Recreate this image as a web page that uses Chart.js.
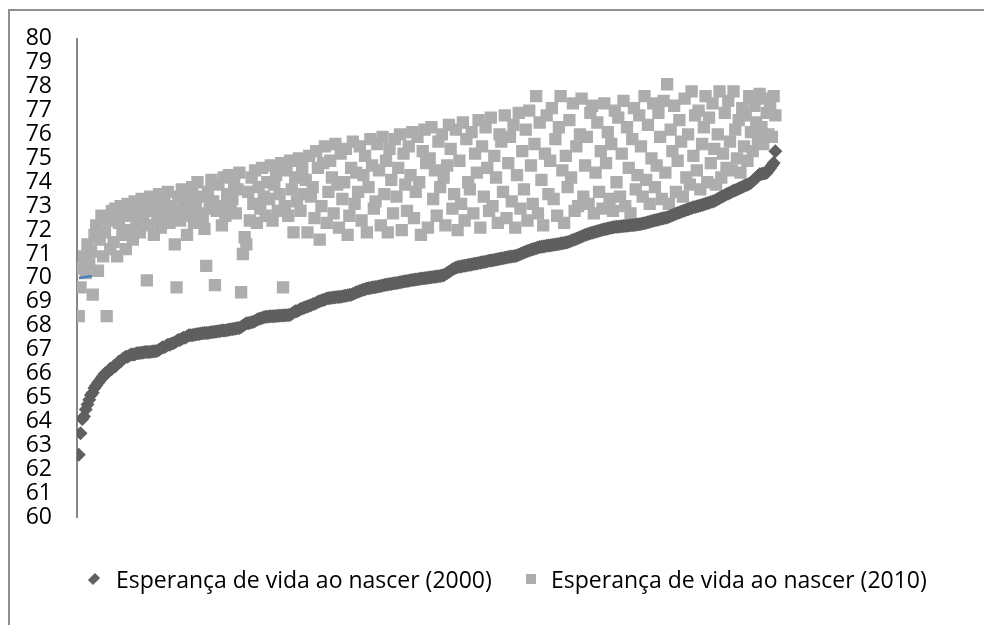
<!DOCTYPE html>
<html>
<head>
<meta charset="utf-8">
<script src="https://cdn.jsdelivr.net/npm/chart.js@4/dist/chart.umd.min.js"></script>
<style>
html,body{margin:0;padding:0;background:#fff;overflow:hidden;width:984px;height:625px;}
#frame{position:absolute;left:8px;top:9px;width:1000px;height:700px;border:2px solid #8e8e8e;box-sizing:border-box;}
#wrap{position:absolute;left:0;top:0;width:984px;height:625px;}
.lg{position:absolute;font-family:'Open Sans',sans-serif;font-size:23px;line-height:24px;color:#000;white-space:nowrap;}
.mk{position:absolute;}
#m1{left:90px;top:575px;width:8px;height:8px;background:#5f5f5f;transform:rotate(45deg) scale(0.9,1.25);}
#m2{left:526px;top:574px;width:10px;height:10px;background:#adadad;}
</style>
</head>
<body>
<div id="frame"></div>
<div id="wrap"><canvas id="c" width="984" height="625"></canvas></div>
<div class="mk" id="m1"></div><div class="lg" id="t1" style="left:116px;top:567px;"></div>
<div class="mk" id="m2"></div><div class="lg" id="t2" style="left:551px;top:567px;"></div>
<script>
const seriesNames = ["Esperança de vida ao nascer (2000)", "Esperança de vida ao nascer (2010)"];
const yTicks = {min: 60, max: 80, step: 1};

const values2000 = [
62.6,63.5,64.1,64.2,64.5,64.7,64.9,65.1,65.2,65.4,65.5,65.6,65.7,65.8,65.9,66.0,66.0,66.1,66.2,66.2,66.3,66.3,66.4,66.5,66.5,66.6,66.65,
66.7,66.7,66.75,66.8,66.8,66.8,66.85,66.85,
66.86,66.87,66.88,66.9,66.9,66.9,66.9,66.92,66.93,66.93,66.95,
67.0,67.05,67.1,67.1,67.15,67.2,67.2,67.25,67.27,
67.3,67.35,67.4,67.4,67.45,67.5,67.5,67.55,67.6,67.6,67.6,67.62,
67.63,67.65,67.65,67.67,67.68,67.7,67.7,67.7,67.72,67.73,67.74,67.75,67.76,
67.77,67.78,67.8,67.8,67.8,67.82,67.83,67.85,67.85,67.87,67.88,67.9,67.9,
67.95,68.0,68.05,68.1,68.1,68.12,68.15,68.17,
68.2,68.25,68.28,68.3,68.32,68.35,68.37,68.38,
68.39,68.4,68.4,68.4,68.41,68.42,68.42,68.43,68.43,68.44,68.44,68.45,68.45,
68.5,68.55,68.6,68.6,68.65,68.7,68.72,68.75,68.78,68.8,
68.83,68.86,68.9,68.92,68.95,69.0,69.02,69.05,69.08,69.1,69.14,
69.15,69.16,69.17,69.18,69.19,69.2,69.2,69.21,69.22,69.24,69.25,69.27,69.28,
69.3,69.33,69.36,69.4,69.42,69.45,69.48,69.5,69.53,69.56,
69.57,69.58,69.6,69.61,69.62,69.63,69.65,69.66,69.68,69.7,69.71,69.72,69.74,69.75,69.77,
69.78,69.79,69.8,69.82,69.83,69.85,69.86,69.87,69.88,69.9,69.91,69.92,69.93,69.94,69.95,69.97,
69.98,69.99,70.0,70.01,70.02,70.03,70.04,70.05,70.06,70.07,70.08,70.1,70.11,
70.15,70.2,70.25,70.3,70.35,70.39,70.42,70.46,
70.47,70.48,70.5,70.51,70.52,70.54,70.55,70.56,70.58,70.59,70.6,70.62,70.63,70.65,70.66,70.68,70.7,70.72,70.73,
70.74,70.75,70.77,70.78,70.8,70.81,70.82,70.84,70.85,70.87,70.88,70.9,70.91,70.92,70.94,
70.97,71.0,71.03,71.06,71.09,71.12,71.15,71.18,71.2,71.22,71.24,71.27,71.29,
71.3,71.31,71.32,71.34,71.35,71.36,71.38,71.39,71.4,71.41,71.42,71.44,71.45,71.46,71.48,71.49,
71.52,71.55,71.58,71.61,71.64,71.67,71.7,71.73,71.76,71.79,71.82,71.85,71.87,71.89,71.91,
71.93,71.95,71.97,71.99,72.01,72.03,72.05,72.07,72.09,72.1,72.12,
72.13,72.14,72.14,72.15,72.16,72.17,72.17,72.18,72.19,72.2,72.2,72.21,72.22,72.23,72.24,72.25,
72.27,72.29,72.31,72.33,72.35,72.37,72.39,72.41,72.42,72.44,72.46,72.48,72.5,72.52,72.53,
72.56,72.59,72.62,72.65,72.68,72.71,72.74,72.77,72.8,72.82,72.85,72.87,72.9,72.92,72.95,
72.97,72.99,73.01,73.03,73.05,73.07,73.1,73.12,73.14,73.17,73.2,73.22,
73.26,73.3,73.34,73.38,73.42,73.46,73.5,73.53,73.56,73.6,73.64,
73.67,73.7,73.74,73.77,73.8,73.84,73.87,73.9,73.94,73.98,
74.05,74.12,74.19,74.26,74.33,
74.35,74.37,74.38,74.4,
74.5,74.6,74.7,74.81,75.3
];

const values2010 = [
68.4,69.6,70.4,70.9,70.2,71.4,70.6,71.1,69.3,71.8,
72.2,70.3,71.6,72.6,70.9,71.9,68.4,72.4,71.2,72.8,
71.5,72.9,70.9,72.3,73.0,71.8,72.6,71.2,73.1,72.0,
72.7,71.6,73.2,72.3,72.9,71.9,73.3,72.5,73.0,69.9,
72.2,73.4,72.8,71.8,73.1,72.5,73.5,72.1,72.9,73.3,
72.6,73.6,72.3,73.0,72.8,71.4,69.6,73.4,72.4,73.7,
72.9,73.2,71.8,73.5,72.6,73.8,72.3,73.1,74.0,72.7,
73.4,72.5,72.05,70.5,73.6,72.9,74.1,73.2,69.7,72.8,
73.9,73.0,72.2,74.2,72.6,73.5,74.3,72.9,73.3,74.0,
72.7,73.7,74.4,69.4,71.0,71.7,71.4,73.6,72.4,74.2,
73.1,74.5,72.3,73.8,72.9,74.6,73.4,72.6,74.0,73.3,
74.7,72.4,73.9,74.3,72.8,73.5,74.8,69.6,73.0,74.5,
72.6,74.9,73.7,71.9,74.2,73.2,75.0,72.8,74.6,73.5,
74.1,71.9,75.1,73.4,73.8,72.5,75.3,74.6,71.6,73.0,
74.8,75.5,72.3,73.6,74.9,74.2,72.7,75.6,73.9,72.1,
75.2,73.3,74.0,75.4,71.8,72.6,74.6,75.7,73.1,74.4,
73.6,75.5,72.4,74.3,75.1,71.9,73.8,75.8,74.7,72.9,
73.2,75.6,74.5,72.2,75.9,73.5,74.9,71.9,75.4,74.1,
72.7,75.8,73.4,74.6,76.0,72.0,75.2,73.9,72.8,75.5,
74.3,76.1,72.5,73.6,75.9,74.0,71.8,75.3,76.2,74.8,
72.1,75.0,76.3,73.3,74.5,72.6,75.7,73.8,76.0,74.2,
72.2,74.7,76.4,75.4,72.9,73.5,76.2,72.0,74.9,73.1,
76.5,72.4,75.8,74.0,73.7,76.1,72.7,75.2,74.4,76.6,
72.1,75.5,73.4,76.3,74.6,72.8,76.7,73.0,75.1,74.2,
72.3,76.0,75.7,73.6,76.8,72.5,74.8,75.9,73.2,76.4,
72.1,74.3,76.9,72.9,75.3,73.7,76.2,72.4,77.0,74.7,
73.1,75.6,77.6,72.7,76.5,74.1,72.2,75.2,76.8,73.5,
74.9,77.1,73.3,75.8,72.6,76.3,77.6,74.5,72.3,75.1,
73.8,76.6,74.2,77.3,72.8,75.5,73.0,76.0,77.5,73.4,
74.7,75.9,73.1,76.9,77.2,72.7,74.4,76.5,73.6,75.3,
72.9,77.3,74.8,76.1,73.3,75.6,72.8,77.0,74.0,76.7,
73.4,75.2,77.4,73.0,76.3,74.6,72.7,75.8,77.1,73.7,
74.3,76.8,75.5,73.4,77.6,74.1,76.4,73.1,75.0,77.3,
73.8,74.7,76.9,75.9,73.3,77.4,74.4,78.1,73.1,76.2,
75.3,77.2,73.6,74.9,76.6,75.7,73.4,77.5,74.2,76.0,
73.9,77.8,75.1,76.8,74.5,77.0,73.7,75.6,76.3,77.6,
74.0,76.7,74.8,77.3,75.4,73.9,76.0,77.8,74.2,75.2,
76.9,74.6,77.4,75.7,74.5,77.8,76.2,75.0,76.6,74.4,
77.1,75.5,76.8,74.9,77.6,76.1,75.3,77.2,76.5,75.8,
77.7,76.3,75.6,77.5,76.9,76.0,77.3,75.9,77.6,76.8
];

// small stray line segment visible near the axis
const strayX = [1.1, 8.6];
const strayY = [70.0, 70.08];

const xMax = 500;

document.getElementById('t1').textContent = seriesNames[0];
document.getElementById('t2').textContent = seriesNames[1];

const pts = arr => arr.map((v, i) => ({x: i + 1, y: v}));

new Chart(document.getElementById('c'), {
  type: 'scatter',
  data: {
    datasets: [
      {
        label: 'stray',
        type: 'line',
        data: strayX.map((x, i) => ({x: x, y: strayY[i]})),
        borderColor: '#4f81bd',
        borderWidth: 2.5,
        pointRadius: 0,
        showLine: true,
        fill: false
      },
      {
        label: seriesNames[0],
        data: pts(values2000),
        pointStyle: 'rectRot',
        pointRadius: 7,
        pointBackgroundColor: '#5f5f5f',
        pointBorderColor: '#5f5f5f',
        pointBorderWidth: 0,
        backgroundColor: '#5f5f5f',
        borderColor: '#5f5f5f'
      },
      {
        label: seriesNames[1],
        data: pts(values2010),
        pointStyle: 'rect',
        pointRadius: 8.7,
        pointBackgroundColor: '#adadad',
        pointBorderColor: '#adadad',
        pointBorderWidth: 0,
        backgroundColor: '#adadad',
        borderColor: '#adadad'
      }
    ]
  },
  options: {
    responsive: false,
    animation: false,
    devicePixelRatio: 1,
    events: [],
    layout: {padding: {left: 20, top: 35, right: 34, bottom: 108}},
    scales: {
      x: {type: 'linear', min: 0, max: xMax, display: false},
      y: {
        min: yTicks.min, max: yTicks.max,
        grid: {display: false, drawTicks: false},
        border: {display: true, color: '#868686', width: 2},
        afterFit: s => { s.width = 57; },
        ticks: {
          stepSize: yTicks.step,
          autoSkip: false,
          padding: 25,
          color: '#000',
          font: {family: 'Open Sans', size: 23}
        }
      }
    },
    plugins: {
      tooltip: {enabled: false},
      legend: {display: false}
    }
  }
});
</script>
</body>
</html>
